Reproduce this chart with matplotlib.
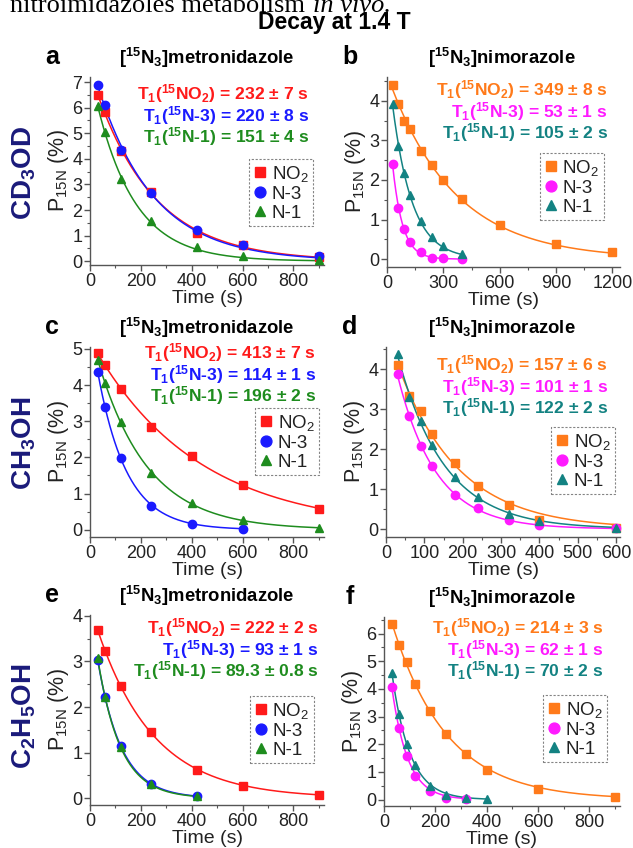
import numpy as np
import matplotlib
matplotlib.use("Agg")
import matplotlib.pyplot as plt
from matplotlib.ticker import MultipleLocator

plt.rcParams['font.family'] = ['Liberation Sans', 'DejaVu Sans']
plt.rcParams['mathtext.fontset'] = 'custom'
plt.rcParams['mathtext.rm'] = 'Liberation Sans'
plt.rcParams['mathtext.bf'] = 'Liberation Sans:bold'
plt.rcParams['mathtext.it'] = 'Liberation Sans:italic'

# ---- data (time in s, P15N in %) ----
# a: metronidazole in CD3OD
t_a = [30, 60, 120, 240, 420, 600, 900]
a_no2 = [6.48, 5.85, 4.32, 2.72, 1.11, 0.62, 0.17]
a_n3 = [6.88, 6.10, 4.36, 2.66, 1.20, 0.65, 0.19]
a_n1 = [6.07, 5.06, 3.21, 1.56, 0.56, 0.22, 0.04]
t1_a = [232, 220, 151]
t1_a_err = ["7", "8", "4"]

# b: nimorazole in CD3OD
t_b_no2 = [30, 60, 90, 120, 180, 240, 300, 400, 600, 900, 1200]
t_b = [30, 60, 90, 120, 180, 240, 300, 400]
b_no2 = [4.40, 3.93, 3.49, 3.28, 2.74, 2.38, 1.99, 1.51, 0.85, 0.38, 0.18]
b_n3 = [2.41, 1.28, 0.76, 0.44, 0.17, 0.04, 0.03, 0.01]
b_n1 = [3.93, 2.85, 2.17, 1.63, 0.97, 0.55, 0.32, 0.14]
t1_b = [349, 53, 105]
t1_b_err = ["8", "1", "2"]

# c: metronidazole in CH3OH
t_c = [30, 60, 120, 240, 400, 600, 900]
t_c_n3 = [30, 60, 120, 240, 400, 600]
c_no2 = [4.89, 4.55, 3.90, 2.85, 2.04, 1.24, 0.58]
c_n3 = [4.36, 3.39, 1.98, 0.67, 0.17, 0.02]
c_n1 = [4.69, 4.06, 2.98, 1.57, 0.73, 0.27, 0.06]
t1_c = [413, 114, 196]
t1_c_err = ["7", "1", "2"]

# d: nimorazole in CH3OH
t_d = [30, 60, 90, 120, 180, 240, 320, 400, 600]
d_no2 = [4.09, 3.33, 2.94, 2.38, 1.65, 1.08, 0.59, 0.23, 0.03]
d_n3 = [3.88, 2.83, 2.08, 1.58, 0.86, 0.53, 0.23, 0.11, 0.02]
d_n1 = [4.37, 3.31, 2.69, 2.11, 1.29, 0.80, 0.38, 0.19, 0.03]
t1_d = [157, 101, 122]
t1_d_err = ["6", "1", "2"]

# e: metronidazole in C2H5OH
t_e = [30, 60, 120, 240, 420, 600, 900]
t_e_n = [30, 60, 120, 240, 420]
e_no2 = [3.69, 3.23, 2.46, 1.45, 0.62, 0.26, 0.06]
e_n3 = [3.03, 2.22, 1.15, 0.31, 0.04]
e_n1 = [3.07, 2.21, 1.12, 0.31, 0.05]
t1_e = [222, 93, 89.3]
t1_e_err = ["2", "1", "0.8"]

# f: nimorazole in C2H5OH
t_f_no2 = [30, 60, 90, 120, 180, 240, 320, 400, 600, 900]
t_f_n3 = [30, 60, 90, 120, 180, 240, 320]
t_f_n1 = [30, 60, 90, 120, 180, 240, 320, 400]
f_no2 = [6.34, 5.58, 4.98, 4.17, 3.19, 2.36, 1.65, 1.07, 0.40, 0.08]
f_n3 = [4.07, 2.59, 1.59, 0.87, 0.30, 0.07, 0.01]
f_n1 = [4.59, 3.08, 2.02, 1.24, 0.48, 0.18, 0.06, 0.01]
t1_f = [214, 62, 70]
t1_f_err = ["3", "1", "2"]

series_names = ["NO$_\\mathrm{2}$", "N-3", "N-1"]
t1_names = ["NO$_\\mathbf{2}$", "N-3", "N-1"]
markers = ["s", "o", "^"]
metro_colors = ["#ff1a1a", "#1a1aff", "#1e8c1e"]
nimo_colors = ["#ff7a1a", "#ff1aff", "#138282"]
solvents = ["CD$_\\mathbf{3}$OD", "CH$_\\mathbf{3}$OH", "C$_\\mathbf{2}$H$_\\mathbf{5}$OH"]

W, H = 633, 848
fig = plt.figure(figsize=(W / 100, H / 100), dpi=100)


def box(l, t, r, b):
    return [l / W, 1 - b / H, (r - l) / W, (b - t) / H]


def fx(x):
    return x / W


def fy(y):
    return 1 - y / H


panels = [
    dict(letter="a", drug="metronidazole", rect=box(90, 77, 324, 265),
         times=[t_a, t_a, t_a], vals=[a_no2, a_n3, a_n1], t1=t1_a, err=t1_a_err,
         colors=metro_colors, xlim=(0, 920), ylim=(-0.15, 7.2), xmaj=200, ymaj=1,
         leg=(249, 159, 312, 233), txt=(309, 94)),
    dict(letter="b", drug="nimorazole", rect=box(387, 77, 620, 267),
         times=[t_b_no2, t_b, t_b], vals=[b_no2, b_n3, b_n1], t1=t1_b, err=t1_b_err,
         colors=nimo_colors, xlim=(0, 1240), ylim=(-0.2, 4.6), xmaj=300, ymaj=1,
         leg=(540, 153, 604, 228), txt=(608, 90)),
    dict(letter="c", drug="metronidazole", rect=box(90, 347, 324, 537),
         times=[t_c, t_c_n3, t_c], vals=[c_no2, c_n3, c_n1], t1=t1_c, err=t1_c_err,
         colors=metro_colors, xlim=(0, 920), ylim=(-0.2, 5.05), xmaj=200, ymaj=1,
         leg=(255, 408, 318, 483), txt=(316, 353)),
    dict(letter="d", drug="nimorazole", rect=box(386, 347, 620, 537),
         times=[t_d, t_d, t_d], vals=[d_no2, d_n3, d_n1], t1=t1_d, err=t1_d_err,
         colors=nimo_colors, xlim=(0, 610), ylim=(-0.2, 4.55), xmaj=100, ymaj=1,
         leg=(551, 427, 615, 502), txt=(608, 365)),
    dict(letter="e", drug="metronidazole", rect=box(90, 615, 324, 805),
         times=[t_e, t_e_n, t_e_n], vals=[e_no2, e_n3, e_n1], t1=t1_e, err=t1_e_err,
         colors=metro_colors, xlim=(0, 920), ylim=(-0.15, 4.02), xmaj=200, ymaj=1,
         leg=(250, 696, 312, 769), txt=(319, 628)),
    dict(letter="f", drug="nimorazole", rect=box(384, 617, 620, 806),
         times=[t_f_no2, t_f_n3, t_f_n1], vals=[f_no2, f_n3, f_n1], t1=t1_f, err=t1_f_err,
         colors=nimo_colors, xlim=(0, 920), ylim=(-0.23, 6.6), xmaj=200, ymaj=1,
         leg=(543, 695, 608, 769), txt=(604, 628)),
]

for p in panels:
    ax = fig.add_axes(p["rect"])
    handles = []
    for i in range(3):
        t = np.array(p["times"][i], dtype=float)
        y = np.array(p["vals"][i], dtype=float)
        # mono-exponential fit line using the reported T1
        e = np.exp(-t / p["t1"][i])
        amp = np.sum(y * e) / np.sum(e * e)
        tt = np.linspace(t[0], t[-1], 300)
        ax.plot(tt, amp * np.exp(-tt / p["t1"][i]), color=p["colors"][i], lw=1.1, zorder=2)
        h, = ax.plot(t, y, linestyle="none", marker=markers[i], color=p["colors"][i],
                     ms=6 if i else 5.5, zorder=3, clip_on=False)
        handles.append(h)

    ax.set_xlim(*p["xlim"])
    ax.set_ylim(*p["ylim"])
    ax.xaxis.set_major_locator(MultipleLocator(p["xmaj"]))
    ax.xaxis.set_minor_locator(MultipleLocator(p["xmaj"] / 2))
    ax.yaxis.set_major_locator(MultipleLocator(p["ymaj"]))
    ax.yaxis.set_minor_locator(MultipleLocator(p["ymaj"] / 2))
    for s in ["top", "right"]:
        ax.spines[s].set_visible(False)
    for s in ["left", "bottom"]:
        ax.spines[s].set_color("#555555")
        ax.spines[s].set_linewidth(1.0)
    ax.tick_params(which="major", length=4, width=1.0, color="#555555", labelsize=13,
                   labelcolor="#222222", pad=1.5)
    ax.tick_params(which="minor", length=2, width=0.8, color="#555555")
    ax.set_xlabel("Time (s)", fontsize=14, color="#222222", labelpad=0)
    ax.set_ylabel("P$_\\mathrm{15N}$ (%)", fontsize=15.5, color="#222222", labelpad=1)

    # legend with dashed frame
    l, t, r, b = p["leg"]
    leg = ax.legend(handles, series_names, loc="upper left", fontsize=13.5,
                    bbox_to_anchor=(fx(l), fy(t)), bbox_transform=fig.transFigure,
                    handlelength=0.7, handletextpad=0.25, borderpad=0.25,
                    labelspacing=0.1, borderaxespad=0, fancybox=False, markerscale=1.3)
    frame = leg.get_frame()
    frame.set_linestyle((0, (2, 1.5)))
    frame.set_edgecolor("#666666")
    frame.set_linewidth(0.8)
    for txt in leg.get_texts():
        txt.set_color("#222222")

    # T1 annotations
    tx, ty = p["txt"]
    for i in range(3):
        val = p["t1"][i]
        label = "T$_\\mathbf{1}$($^\\mathbf{15}$" + t1_names[i] + ") = " + \
            str(val) + " ± " + p["err"][i] + " s"
        fig.text(fx(tx), fy(ty + 21.5 * i), label, color=p["colors"][i], fontsize=12.6,
                 fontweight="bold", ha="right", va="center")

    # panel letter and title
    col_x = 52 if p["letter"] in "ace" else 350
    ytop = p["rect"][1] + p["rect"][3]
    fig.text(fx(col_x), ytop + 20 / H, p["letter"], fontsize=18, fontweight="bold",
             ha="center", va="center")
    cx = 207 if p["letter"] in "ace" else 502
    fig.text(fx(cx), ytop + 19 / H, "[$^\\mathbf{15}$N$_\\mathbf{3}$]" + p["drug"],
             fontsize=13.3, fontweight="bold", ha="center", va="center")

# solvent row labels
for y, name in zip([173, 443, 716], solvents):
    fig.text(fx(24), fy(y), name, rotation=90, fontsize=20, fontweight="bold",
             color="#1a1a7a", ha="center", va="center")

fig.text(fx(334), fy(29), "Decay at 1.4 T", fontsize=16.5, fontweight="bold",
         ha="center", va="baseline")

# caption line cut off at the top edge, as in the source page
cap = fig.text(fx(10), fy(12), "nitroimidazoles metabolism", fontsize=19,
               family="Liberation Serif", ha="left", va="baseline")
fig.canvas.draw()
ext = cap.get_window_extent()
fig.text(ext.x1 / W + fx(8), fy(12), "in vivo.", fontsize=19, family="Liberation Serif",
         style="italic", ha="left", va="baseline")

fig.savefig("out.png", dpi=100)
